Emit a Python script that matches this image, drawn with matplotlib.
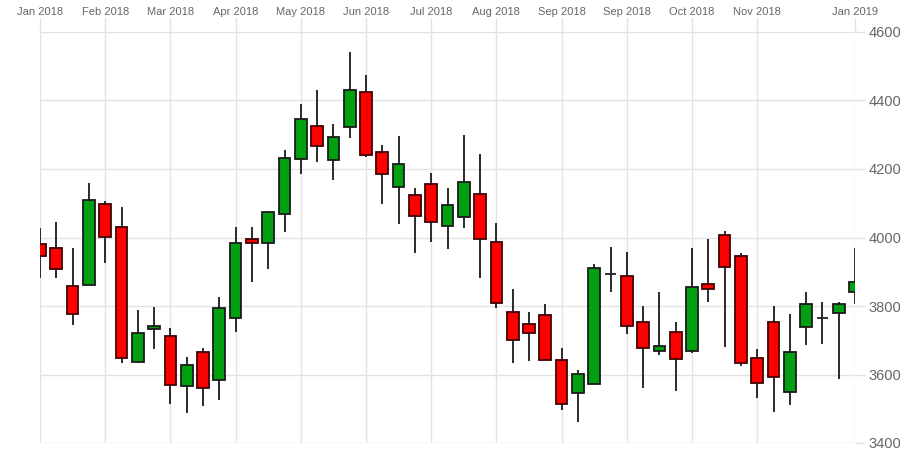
import matplotlib
matplotlib.use("Agg")
import matplotlib.pyplot as plt
import numpy as np

plt.rcParams['font.family'] = ['Liberation Sans', 'DejaVu Sans']

# Weekly OHLC values (week index 0..50)
opens = [3982, 3970, 3859, 3862, 4098, 4031, 3636, 3733, 3712, 3567,
         3667, 3583, 3765, 3996, 3984, 4068, 4229, 4327, 4225, 4324,
         4424, 4251, 4148, 4123, 4157, 4034, 4060, 4128, 3988, 3783,
         3747, 3774, 3643, 3545, 3572, 3893, 3888, 3754, 3669, 3725,
         3668, 3865, 4006, 3947, 3647, 3752, 3548, 3740, 3766, 3779,
         3840]
highs = [4027, 4044, 3968, 4158, 4107, 4088, 3789, 3796, 3736, 3651,
         3678, 3825, 4031, 4032, 4078, 4256, 4390, 4431, 4331, 4543,
         4474, 4270, 4295, 4144, 4188, 4144, 4298, 4243, 4041, 3850,
         3783, 3806, 3677, 3614, 3922, 3972, 3957, 3801, 3840, 3753,
         3969, 3995, 4018, 3956, 3675, 3801, 3777, 3840, 3811, 3812,
         3969]
lows = [3882, 3881, 3745, 3862, 3927, 3633, 3636, 3675, 3515, 3488,
        3508, 3526, 3724, 3869, 3908, 4015, 4186, 4221, 4168, 4290,
        4236, 4098, 4039, 3954, 3988, 3966, 4028, 3883, 3794, 3633,
        3639, 3642, 3495, 3461, 3572, 3840, 3719, 3561, 3657, 3553,
        3663, 3813, 3679, 3624, 3531, 3491, 3512, 3687, 3688, 3588,
        3807]
closes = [3945, 3908, 3777, 4110, 4001, 3648, 3720, 3741, 3570, 3627,
          3561, 3795, 3984, 3984, 4075, 4231, 4346, 4267, 4293, 4431,
          4242, 4186, 4215, 4064, 4045, 4094, 4161, 3996, 3808, 3701,
          3721, 3642, 3514, 3601, 3910, 3893, 3743, 3678, 3683, 3646,
          3855, 3851, 3915, 3635, 3576, 3592, 3667, 3806, 3766, 3805,
          3870]

tick_weeks = [0, 4, 8, 12, 16, 20, 24, 28, 32, 36, 40, 44, 50]
tick_labels = ["Jan 2018", "Feb 2018", "Mar 2018", "Apr 2018", "May 2018",
               "Jun 2018", "Jul 2018", "Aug 2018", "Sep 2018", "Sep 2018",
               "Oct 2018", "Nov 2018", "Jan 2019"]
y_ticks = [3400, 3600, 3800, 4000, 4200, 4400, 4600]

UP = '#00a010'
DOWN = '#ff0000'

fig = plt.figure(figsize=(9.24, 4.66), dpi=100)
ax = fig.add_axes([40/924, 1-443/466, (855-40)/924, (443-32)/466])

x = np.arange(len(opens))
o = np.array(opens); c = np.array(closes)
h = np.array(highs); l = np.array(lows)
up = c >= o
colors = [UP if u else DOWN for u in up]
edges = ['#1a1a1a' if u else '#400000' for u in up]
edges = ['#222222' if opens[i] == closes[i] else edges[i] for i in range(len(opens))]

ax.vlines(x, l, h, color='#1a1a1a', linewidth=1.3, zorder=2)
bottoms = np.minimum(o, c)
heights = np.abs(c - o)
ax.bar(x, heights, width=0.72, bottom=bottoms, color=colors,
       edgecolor=edges, linewidth=1.3, zorder=3)

ax.set_xlim(0, 50)
ax.set_ylim(3400, 4600)

for s in ax.spines.values():
    s.set_visible(False)

ax.set_xticks(tick_weeks)
ax.set_xticklabels(tick_labels)
ax.xaxis.tick_top()
ax.tick_params(axis='x', which='both', length=10, width=1, color='#e2e2e2',
               labelsize=8, labelcolor='#666666', pad=1)

ax.set_yticks(y_ticks)
ax.yaxis.tick_right()
ax.tick_params(axis='y', length=7, width=1, color='#e2e2e2',
               labelsize=10.5, labelcolor='#666666', pad=3)

ax.grid(True, color='#e2e2e2', linewidth=1, zorder=0)
ax.set_axisbelow(True)

fig.savefig('out.png', dpi=100, facecolor='white')
